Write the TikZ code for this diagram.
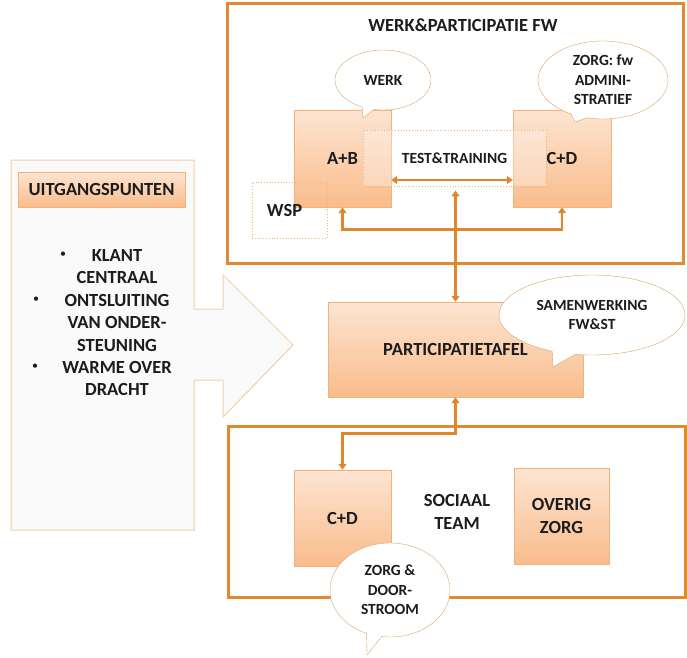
\documentclass[tikz,border=0pt]{standalone}
\usepackage{fontspec}
\setmainfont{Carlito}
\usetikzlibrary{shapes.callouts,arrows.meta,positioning}

\definecolor{frameorange}{RGB}{226,138,48}
\definecolor{linkorange}{RGB}{224,135,45}
\definecolor{boxtop}{RGB}{253,229,210}
\definecolor{boxbottom}{RGB}{249,188,140}
\definecolor{boxline}{RGB}{245,178,120}
\definecolor{bubbleline}{RGB}{215,165,110}
\definecolor{panelfill}{RGB}{250,250,250}
\definecolor{panelline}{RGB}{246,206,165}
\definecolor{inkgray}{RGB}{28,28,28}

\newcommand{\biglbl}{\fontsize{18.5}{22.5}\selectfont\bfseries}
\newcommand{\smalllbl}{\fontsize{15.5}{19.5}\selectfont\bfseries}

\tikzset{
  frame/.style={draw=frameorange, line width=3pt},
  unit/.style={draw=boxline, top color=boxtop, bottom color=boxbottom,
    align=center, font=\biglbl, text=inkgray, inner sep=0pt},
  dotbox/.style={draw=boxline, dotted, line width=0.8pt, font=\biglbl,
    text=inkgray, inner sep=0pt},
  bubble/.style={ellipse callout, draw=bubbleline, fill=white, align=center,
    font=\smalllbl, text=inkgray, inner sep=0pt},
  link/.style={draw=linkorange, line width=2.6pt,
    {Triangle[length=6pt,width=8pt]}-{Triangle[length=6pt,width=8pt]}},
  txt/.style={align=center, font=\biglbl, text=inkgray, inner sep=0pt},
}

\begin{document}
\begin{tikzpicture}[x=1pt,y=-1pt]
  \useasboundingbox (0,0) rectangle (687,657);

  % left panel with arrow
  \draw[draw=panelline, fill=panelfill, line width=1pt]
    (11,160) -- (194,160) -- (194,309) -- (223,309) -- (223,275) -- (293,345)
    -- (223,417) -- (223,380) -- (194,380) -- (194,530) -- (11,530) -- cycle;
  \node[unit, minimum width=167pt, minimum height=35pt] (uitg) at (101.5,189.5) {UITGANGSPUNTEN};
  \node[txt] (klant) at (117,266.5) {KLANT\\CENTRAAL};
  \node[txt] (ontsl) at (117,322.5) {ONTSLUITING\\VAN ONDER-\\STEUNING};
  \node[txt] (warm) at (117,378.5) {WARME OVER\\DRACHT};
  \node[txt, font=\fontsize{12}{14}\selectfont] (b1) at (63,255) {\textbullet};
  \node[txt, font=\fontsize{12}{14}\selectfont] (b2) at (36,300) {\textbullet};
  \node[txt, font=\fontsize{12}{14}\selectfont] (b3) at (35,367) {\textbullet};

  % werk & participatie
  \node[frame, minimum width=456pt, minimum height=260pt] (wpframe) at (455,133) {};
  \node[txt] (wptitle) at (463,25) {WERK\&PARTICIPATIE FW};
  \node[unit, minimum width=97pt, minimum height=97pt] (ab) at (342.5,158.5) {A+B};
  \node[unit, minimum width=98pt, minimum height=97pt] (cdtop) at (562,158.5) {C+D};
  \node[dotbox, fill=white, fill opacity=0.3, text opacity=1, font=\smalllbl,
    minimum width=183pt, minimum height=56pt] (tt) at (454.5,158) {TEST\&TRAINING};
  \node[dotbox, minimum width=75pt, minimum height=56pt] (wsp) at (289.5,210) {WSP\hspace*{10pt}};
  \draw[link] ([yshift=-21.5pt]ab.east) -- ([yshift=-21.5pt]cdtop.west);
  \draw[link] (ab.south) -- ++(0,22) -| (cdtop.south);
  \node[bubble, minimum width=96pt, minimum height=60pt,
    callout absolute pointer={(363,118)}] (werk) at (383,80) {WERK};
  \node[bubble, minimum width=130pt, minimum height=78pt,
    callout absolute pointer={(575,122)}] (zorgfw) at (603,80) {ZORG: fw\\ADMINI-\\STRATIEF};

  % participatietafel
  \node[unit, minimum width=255pt, minimum height=95pt] (tafel) at (455.5,349.5) {PARTICIPATIETAFEL};
  \draw[link] (tafel.north) -- ([yshift=-4pt]tafel.north |- tt.south);
  \node[bubble, minimum width=186pt, minimum height=80pt,
    callout absolute pointer={(553,367)}] (samen) at (592,315) {SAMENWERKING\\FW\&ST};

  % sociaal team
  \node[frame, minimum width=457pt, minimum height=171pt] (stframe) at (456.5,511.5) {};
  \node[unit, minimum width=97pt, minimum height=96pt] (cdbot) at (342.5,518) {C+D};
  \node[unit, minimum width=95pt, minimum height=96pt] (overig) at (561.5,516) {OVERIG\\ZORG};
  \node[txt] (sociaal) at (457,512) {SOCIAAL\\TEAM};
  \draw[link] (tafel.south) -- ++(0,36) -| (cdbot.north);
  \node[bubble, minimum width=120pt, minimum height=94pt,
    callout absolute pointer={(367,655)}] (zorgdoor) at (390,590) {ZORG \&\\DOOR-\\STROOM};
\end{tikzpicture}
\end{document}
